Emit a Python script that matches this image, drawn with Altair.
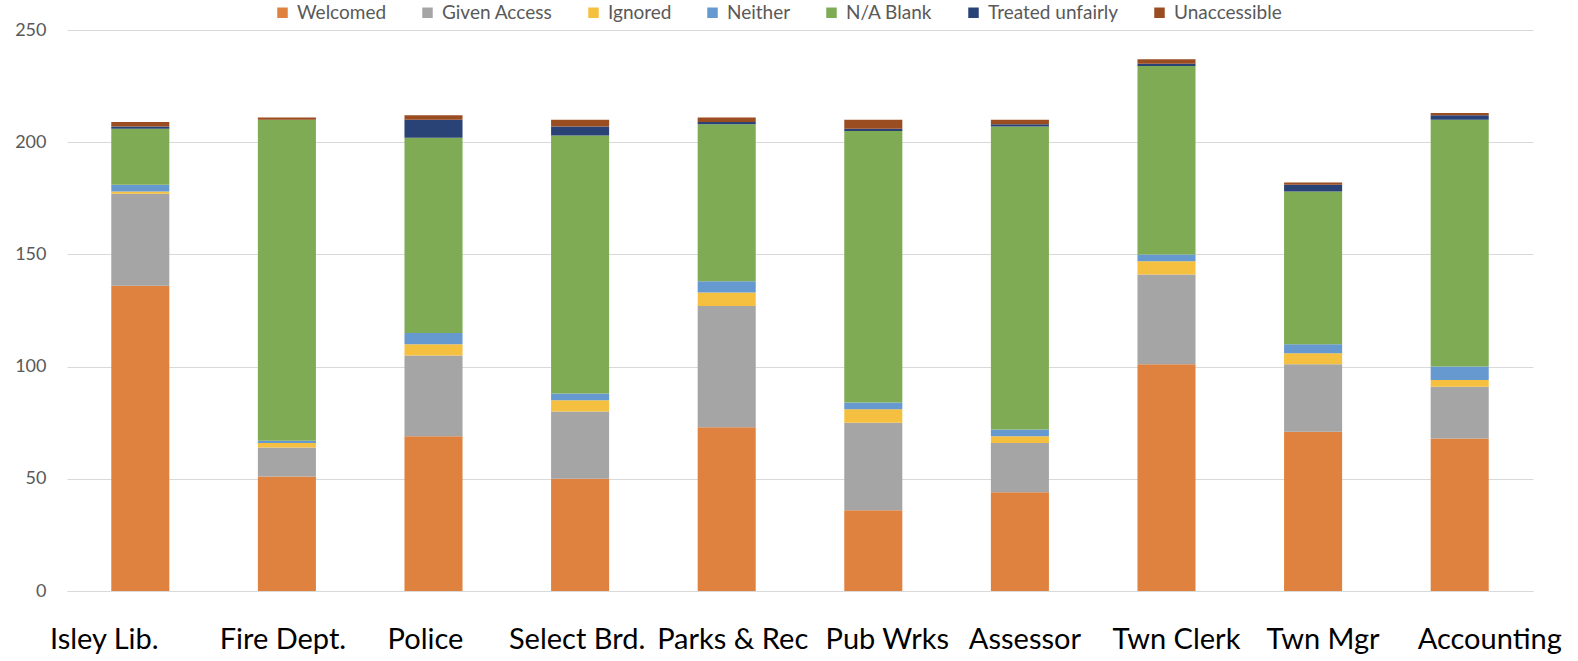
import altair as alt
import pandas as pd

departments = ["Isley Lib.", "Fire Dept.", "Police", "Select Brd.", "Parks & Rec",
               "Pub Wrks", "Assessor", "Twn Clerk", "Twn Mgr", "Accounting"]
series = ["Welcomed", "Given Access", "Ignored", "Neither", "N/A Blank",
          "Treated unfairly", "Unaccessible"]
colors = ["#E0823F", "#A5A5A5", "#F5C040", "#6699CF", "#7FAB55", "#2A4377", "#9A4D20"]

welcomed     = [136, 51, 69, 50, 73, 36, 44, 101, 71, 68]
given_access = [41, 13, 36, 30, 54, 39, 22, 40, 30, 23]
ignored      = [1, 2, 5, 5, 6, 6, 3, 6, 5, 3]
neither      = [3, 1, 5, 3, 5, 3, 3, 3, 4, 6]
na_blank     = [25, 143, 87, 115, 70, 121, 135, 84, 68, 110]
unfair       = [1, 0, 8, 4, 1, 1, 1, 1, 3, 2]
unaccessible = [2, 1, 2, 3, 2, 4, 2, 2, 1, 1]

values = [welcomed, given_access, ignored, neither, na_blank, unfair, unaccessible]

# horizontal nudges of the category labels (style only; the reference's labels
# are not exactly centred under the bars)
label_nudge = [-36, -4, -8, -3, 6, 14, 5, 10, 10, 30]

rows = []
for si, (name, vals) in enumerate(zip(series, values)):
    for d, v in zip(departments, vals):
        rows.append({"Department": d, "Response": name, "Count": v, "idx": si})
df = pd.DataFrame(rows)

font = "Lato"

offset_conditions = [
    {"test": f"datum.value === {d!r}", "value": n}
    for d, n in zip(departments, label_nudge) if n != 0
]

chart = alt.Chart(df).mark_bar().encode(
    x=alt.X("Department:N", sort=departments, title=None,
            scale=alt.Scale(paddingInner=0.604, paddingOuter=0.302),
            axis=alt.Axis(labelAngle=0, labelFontSize=29, labelColor="#000000",
                          labelFont=font, labelPadding=34, ticks=False,
                          labelOffset={"condition": offset_conditions, "value": 0},
                          domainColor="#D9D9D9", domainWidth=1, grid=False)),
    y=alt.Y("Count:Q", title=None,
            scale=alt.Scale(domain=[0, 250], nice=False),
            axis=alt.Axis(values=[0, 50, 100, 150, 200, 250], labelFontSize=18,
                          labelColor="#595959", labelFont=font, labelPadding=21,
                          ticks=False, domain=False, gridColor="#D9D9D9",
                          gridWidth=1)),
    color=alt.Color("Response:N", sort=series,
                    scale=alt.Scale(domain=series, range=colors),
                    legend=alt.Legend(title=None, orient="none", direction="horizontal",
                                      legendX=206, legendY=-27,
                                      symbolType="square", symbolSize=110,
                                      symbolStrokeWidth=0,
                                      labelFontSize=19, labelColor="#595959",
                                      labelFont=font, columnPadding=31,
                                      labelOffset=5)),
    order=alt.Order("idx:Q", sort="ascending"),
).properties(
    width=1466, height=561,
    autosize=alt.AutoSizeParams(type="none"),
    padding={"left": 67, "top": 30, "right": 45, "bottom": 70},
).configure(background="white").configure_view(strokeWidth=0, stroke=None)

chart.save("out.html", embed_options={"renderer": "svg", "actions": False})
